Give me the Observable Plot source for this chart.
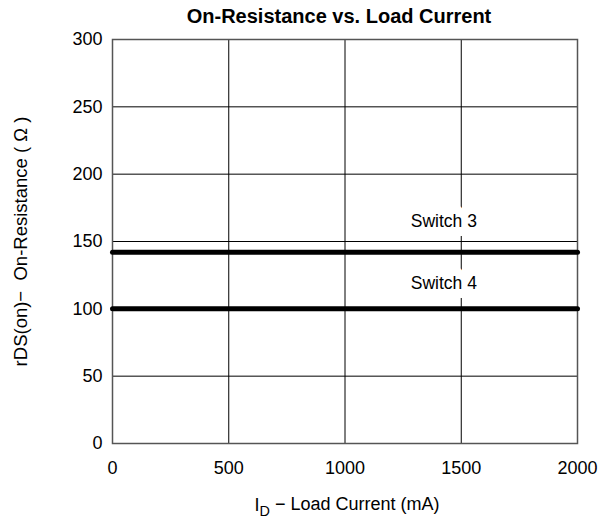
<!DOCTYPE html>
<html><head><meta charset="utf-8">
<script src="https://cdn.jsdelivr.net/npm/d3@7"></script>
<script src="https://cdn.jsdelivr.net/npm/@observablehq/plot@0.6"></script>
<style>body{margin:0;background:#fff}</style>
</head><body><div id="chart"></div>
<script>
const series = ["Switch 3", "Switch 4"];
const resistance = [142, 100];
const currentRange = [0, 2000];
const labelCurrent = [1425, 1425];
const labelResistance = [165, 119];
const xTicks = [0, 500, 1000, 1500, 2000];
const yTicks = [0, 50, 100, 150, 200, 250, 300];
const titleText = "On-Resistance vs. Load Current";
const yLabelText = "rDS(on)−  On-Resistance ( Ω )";
const xLabelMain = "I";
const xLabelSub = "D";
const xLabelRest = " − Load Current (mA)";

const lineRows = series.flatMap((s, i) => currentRange.map(c => ({series: s, current: c, r: resistance[i]})));
const labelRows = series.map((s, i) => ({series: s, current: labelCurrent[i], r: labelResistance[i]}));

const chart = Plot.plot({
  width: 609, height: 525,
  marginLeft: 112, marginRight: 32, marginTop: 39, marginBottom: 82,
  style: {fontFamily: "'Liberation Sans', Arial, sans-serif", fontSize: "18px", background: "white", color: "black"},
  x: {domain: [0, 2000]},
  y: {domain: [0, 300]},
  marks: [
    Plot.gridX(xTicks.slice(1, -1), {stroke: "black", strokeOpacity: 1, strokeWidth: 1}),
    Plot.gridY(yTicks.slice(1, -1), {stroke: "black", strokeOpacity: 1, strokeWidth: 1}),
    Plot.frame({stroke: "#555", strokeWidth: 1.5}),
    Plot.axisX(xTicks, {tickSize: 0, tickPadding: 18, label: null, tickFormat: d => String(d)}),
    Plot.axisY(yTicks, {tickSize: 0, tickPadding: 10, label: null, tickFormat: d => String(d)}),
    Plot.line(lineRows, {x: "current", y: "r", z: "series", stroke: "black", strokeWidth: 5}),
    Plot.text(labelRows, {x: "current", y: "r", text: "series", stroke: "white", strokeWidth: 18, fill: "black", fontSize: 17.5}),
    Plot.text([titleText], {frameAnchor: "top", dy: -23, dx: -6, lineAnchor: "middle", textAnchor: "middle", fontWeight: "bold", fontSize: 20}),
    Plot.text([yLabelText], {frameAnchor: "left", textAnchor: "middle", lineAnchor: "middle", rotate: -90, dx: -91, fontSize: 18.5}),
    Plot.text([xLabelMain + xLabelSub + xLabelRest], {frameAnchor: "bottom", textAnchor: "middle", lineAnchor: "middle", dy: 62, dx: 2, fontSize: 18})
  ]
});
document.getElementById("chart").appendChild(chart);
const ns = "http://www.w3.org/2000/svg";
for (const t of chart.querySelectorAll("text")) {
  if (t.textContent === yLabelText) {
    t.style.whiteSpace = "pre";
    t.setAttribute("xml:space", "preserve");
  }
  if (t.textContent === xLabelMain + xLabelSub + xLabelRest) {
    t.textContent = "";
    const a = document.createElementNS(ns, "tspan"); a.textContent = xLabelMain;
    const b = document.createElementNS(ns, "tspan"); b.textContent = xLabelSub; b.setAttribute("dy", "0.3em"); b.setAttribute("font-size", "0.8em");
    const c = document.createElementNS(ns, "tspan"); c.textContent = xLabelRest; c.setAttribute("dy", "-0.3em");
    t.append(a, b, c);
  }
}
</script></body></html>
